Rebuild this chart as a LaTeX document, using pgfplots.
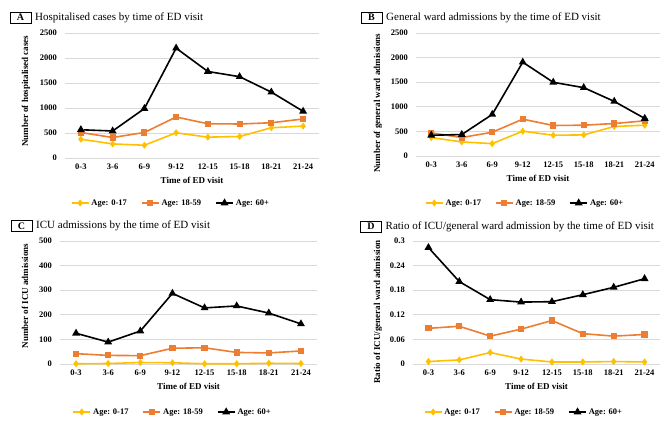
\documentclass[border=0pt]{standalone}
\usepackage{pgfplots}
\usepackage{pgfplotstable}
\pgfplotsset{compat=1.18}
\usepackage{fontspec}
\setmainfont{Liberation Serif}

\definecolor{cyel}{HTML}{FFC000}
\definecolor{corg}{HTML}{ED7D31}
\definecolor{cgrid}{HTML}{D9D9D9}

\pgfplotstableread{
x a b c
0 376 510 565
1 282 410 540
2 255 510 988
3 504 820 2197
4 417 685 1730
5 430 680 1626
6 605 705 1317
7 638 780 934
}\tA
\pgfplotstableread{
x a b c
0 375 470 422
1 286 375 436
2 252 483 845
3 504 749 1907
4 422 620 1498
5 429 626 1389
6 600 660 1110
7 626 715 763
}\tB
\pgfplotstableread{
x a b c
0 1 42 125
1 2 35 89
2 6 34 134
3 5 64 287
4 1 66 228
5 1 47 236
6 3 45 207
7 2 53 163
}\tC
\pgfplotstableread{
x a b c
0 0.006 0.087 0.284
1 0.010 0.092 0.201
2 0.028 0.068 0.157
3 0.012 0.085 0.151
4 0.005 0.106 0.152
5 0.005 0.074 0.169
6 0.006 0.068 0.187
7 0.005 0.072 0.208
}\tD

\pgfplotsset{
  panel/.style={
    scale only axis,
    xmin=-0.5, xmax=7.5, ymin=0,
    xtick={0,...,7},
    xticklabels={0-3,3-6,6-9,9-12,12-15,15-18,18-21,21-24},
    axis line style={draw=none},
    major tick length=0pt,
    tick style={draw=none},
    ymajorgrids,
    grid style={draw=cgrid, line width=0.8pt},
    ticklabel style={font=\fontsize{8.5}{10}\selectfont\bfseries, inner sep=0pt},
    xticklabel style={anchor=center, yshift=-9pt},
    yticklabel style={anchor=east, xshift=-8pt},
    xlabel={Time of ED visit},
    xlabel style={at={(axis description cs:0.5,0)}, anchor=center, yshift=-22pt, font=\fontsize{9}{10}\selectfont\bfseries},
    ylabel style={anchor=center, font=\fontsize{9}{10}\selectfont\bfseries},
    legend columns=3,
    legend style={draw=none, fill=none, anchor=center, font=\fontsize{8.5}{10}\selectfont\bfseries,
      /tikz/every even column/.append style={column sep=12pt}},
    clip=false,
  },
  s1/.style={cyel, line width=1.6pt, mark=diamond*, mark size=2.3pt, mark options={solid}},
  s2/.style={corg, line width=1.6pt, mark=square*, mark size=2.3pt, mark options={solid}},
  s3/.style={black, line width=1.6pt, mark=triangle*, mark size=3pt, mark options={solid}},
}

\newcommand{\paneltitle}[4]{%
  \node[draw, line width=0.6pt, minimum width=21pt, minimum height=11pt, inner sep=0pt,
        font=\fontsize{10}{11}\selectfont\bfseries] at (#1pt,#2pt) {#3};
  \node[anchor=west, inner sep=0pt, font=\fontsize{11}{12}\selectfont] at (#1pt+14.5pt,#2pt) {#4};
}

\begin{document}
\begin{tikzpicture}
\useasboundingbox (0,0) rectangle (665pt,-422pt);

\paneltitle{20.5}{-17.5}{A}{Hospitalised cases by time of ED visit}
\paneltitle{371.5}{-17.5}{B}{General ward admissions by the time of ED visit}
\paneltitle{21.5}{-226}{C}{ICU admissions by the time of ED visit}
\paneltitle{371}{-226.5}{D}{Ratio of ICU/general ward admission by the time of ED visit}

% Panel A
\begin{axis}[panel, at={(65pt,-158pt)}, anchor=south west, width=254pt, height=125pt,
  ymax=2500, ytick={0,500,1000,1500,2000,2500}, yticklabels={0,500,1000,1500,2000,2500},
  ylabel={Number of hospitalised cases},
  ylabel style={at={(axis description cs:-0.154,0.535)}},
  legend style={at={(axis description cs:0.417,-0.36)}}]
\addplot[s1] table[x=x,y=a]{\tA}; \addlegendentry{Age: 0-17}
\addplot[s2] table[x=x,y=b]{\tA}; \addlegendentry{Age: 18-59}
\addplot[s3] table[x=x,y=c]{\tA}; \addlegendentry{Age: 60+}
\end{axis}

% Panel B
\begin{axis}[panel, at={(416pt,-156pt)}, anchor=south west, width=244pt, height=123pt,
  ymax=2500, ytick={0,500,1000,1500,2000,2500}, yticklabels={0,500,1000,1500,2000,2500},
  ylabel={Number of general ward admissions},
  ylabel style={at={(axis description cs:-0.156,0.428)}},
  legend style={at={(axis description cs:0.447,-0.382)}}]
\addplot[s1] table[x=x,y=a]{\tB}; \addlegendentry{Age: 0-17}
\addplot[s2] table[x=x,y=b]{\tB}; \addlegendentry{Age: 18-59}
\addplot[s3] table[x=x,y=c]{\tB}; \addlegendentry{Age: 60+}
\end{axis}

% Panel C
\begin{axis}[panel, at={(60pt,-364pt)}, anchor=south west, width=257pt, height=123pt,
  ymax=500, ytick={0,100,200,300,400,500}, yticklabels={0,100,200,300,400,500},
  ylabel={Number of ICU admissions},
  ylabel style={at={(axis description cs:-0.136,0.553)}},
  legend style={at={(axis description cs:0.438,-0.39)}}]
\addplot[s1] table[x=x,y=a]{\tC}; \addlegendentry{Age: 0-17}
\addplot[s2] table[x=x,y=b]{\tC}; \addlegendentry{Age: 18-59}
\addplot[s3] table[x=x,y=c]{\tC}; \addlegendentry{Age: 60+}
\end{axis}

% Panel D
\begin{axis}[panel, at={(413pt,-364pt)}, anchor=south west, width=247pt, height=123pt,
  ymax=0.3, ytick={0,0.06,0.12,0.18,0.24,0.3}, yticklabels={0,0.06,0.12,0.18,0.24,0.3},
  ylabel={Ratio of ICU/general ward admission},
  ylabel style={at={(axis description cs:-0.142,0.423)}},
  legend style={at={(axis description cs:0.449,-0.39)}}]
\addplot[s1] table[x=x,y=a]{\tD}; \addlegendentry{Age: 0-17}
\addplot[s2] table[x=x,y=b]{\tD}; \addlegendentry{Age: 18-59}
\addplot[s3] table[x=x,y=c]{\tD}; \addlegendentry{Age: 60+}
\end{axis}
\end{tikzpicture}
\end{document}
